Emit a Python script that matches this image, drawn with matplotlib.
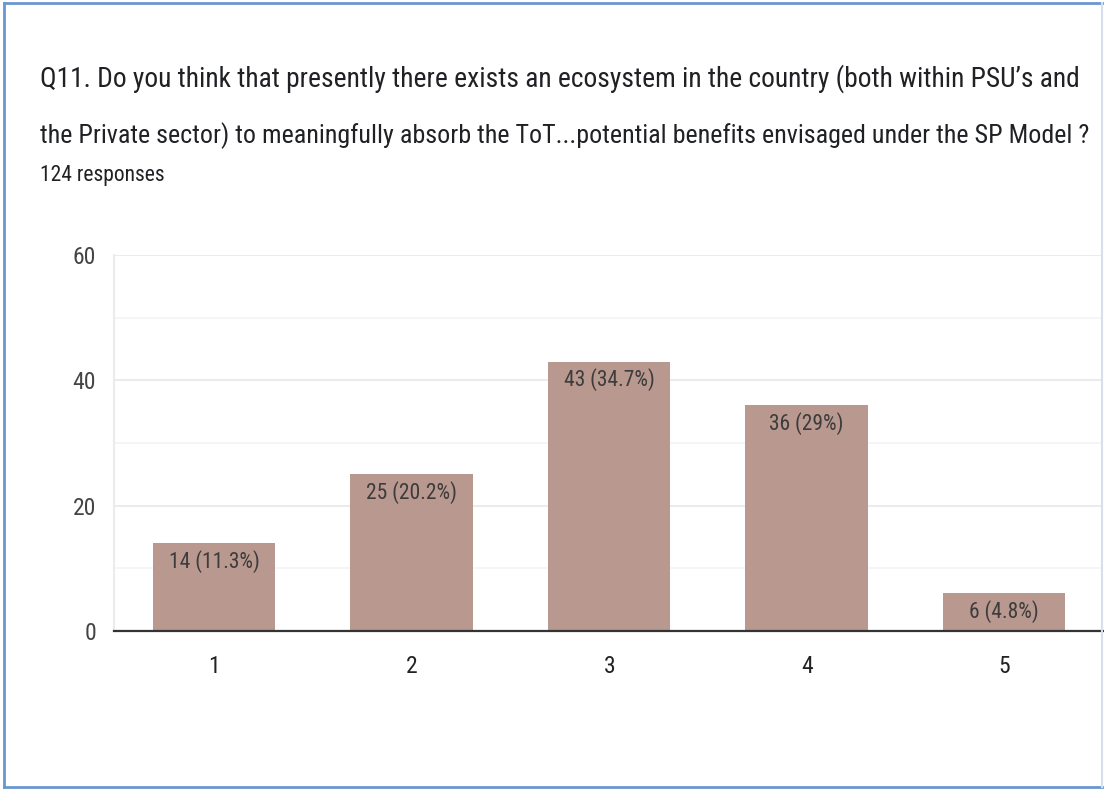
import matplotlib
matplotlib.use("Agg")
import matplotlib.pyplot as plt
from matplotlib import font_manager
from matplotlib.lines import Line2D

# survey answers (rating scale) and response counts
ratings = ["1", "2", "3", "4", "5"]
counts = [14, 25, 43, 36, 6]
percents = ["11.3%", "20.2%", "34.7%", "29%", "4.8%"]
total_responses = 124

title_lines = [
    "Q11. Do you think that presently there exists an ecosystem in the country (both within PSU\u2019s and",
    "the Private sector) to meaningfully absorb the ToT...potential benefits envisaged under the SP Model ?",
]

# pick the narrowest sans family that is installed
names = {f.name for f in font_manager.fontManager.ttflist}
family = "Roboto"
for cand in ["Roboto Condensed", "Liberation Sans Narrow", "Arial Narrow"]:
    if cand in names:
        family = cand
        break
plt.rcParams["font.family"] = [family, "DejaVu Sans"]

W, H = 1104, 789
fig = plt.figure(figsize=(W / 100, H / 100), dpi=100)
ax = fig.add_axes([114 / W, 1 - 631 / H, 989 / W, 376 / H])

bar_color = "#b9988f"
x = list(range(1, len(ratings) + 1))
bars = ax.bar(x, counts, width=0.62, color=bar_color, zorder=2)

ax.set_xlim(0.493, 5.5)
ax.set_ylim(0, 60)
ax.set_yticks([0, 20, 40, 60])
ax.set_yticks([10, 30, 50], minor=True)
ax.set_xticks(x)
ax.set_xticklabels(ratings)

ax.grid(axis="y", which="major", color="#ebebeb", linewidth=1.5, zorder=0)
ax.grid(axis="y", which="minor", color="#f4f4f4", linewidth=1.2, zorder=0)
for side in ["top", "right", "bottom"]:
    ax.spines[side].set_visible(False)
ax.spines["left"].set_color("#ebebeb")
ax.spines["left"].set_linewidth(1.5)
ax.axhline(0, color="#333333", linewidth=1.6, zorder=3, clip_on=False)

ax.tick_params(axis="y", which="both", length=0, pad=13, labelsize=17, labelcolor="#444444")
ax.tick_params(axis="x", length=0, pad=17, labelsize=17, labelcolor="#222222")

for b, c, p in zip(bars, counts, percents):
    ax.annotate(f"{c} ({p})", xy=(b.get_x() + b.get_width() / 2, c),
                xytext=(0, -13), textcoords="offset points",
                ha="center", va="center", fontsize=15.5, color="#3c3c3c", zorder=4)

# question text and response count
t1 = fig.text(40 / W, 1 - 87 / H, title_lines[0], fontsize=22, color="#202124", va="baseline")
t2 = fig.text(40 / W, 1 - 143 / H, title_lines[1], fontsize=22, color="#202124", va="baseline")
fig.text(40 / W, 1 - 181 / H, f"{total_responses} responses", fontsize=15.5, color="#202124", va="baseline")

# size each question line so it ends where the card text ends
renderer = fig.canvas.get_renderer()
for t, target in [(t1, 1042), (t2, 1050)]:
    w = t.get_window_extent(renderer).width
    t.set_fontsize(22 * target / w)

# card outline
blue = "#6a96d2"
fig.add_artist(Line2D([4 / W, 4 / W], [1 - 787 / H, 1 - 3 / H], color=blue, linewidth=2))
fig.add_artist(Line2D([4 / W, 1102 / W], [1 - 3 / H, 1 - 3 / H], color=blue, linewidth=2))
fig.add_artist(Line2D([4 / W, 1102 / W], [1 - 787 / H, 1 - 787 / H], color=blue, linewidth=2))
fig.add_artist(Line2D([1102 / W, 1102 / W], [1 - 787 / H, 1 - 3 / H], color="#d5dfee", linewidth=1.5))

fig.savefig("out.png", dpi=100)
